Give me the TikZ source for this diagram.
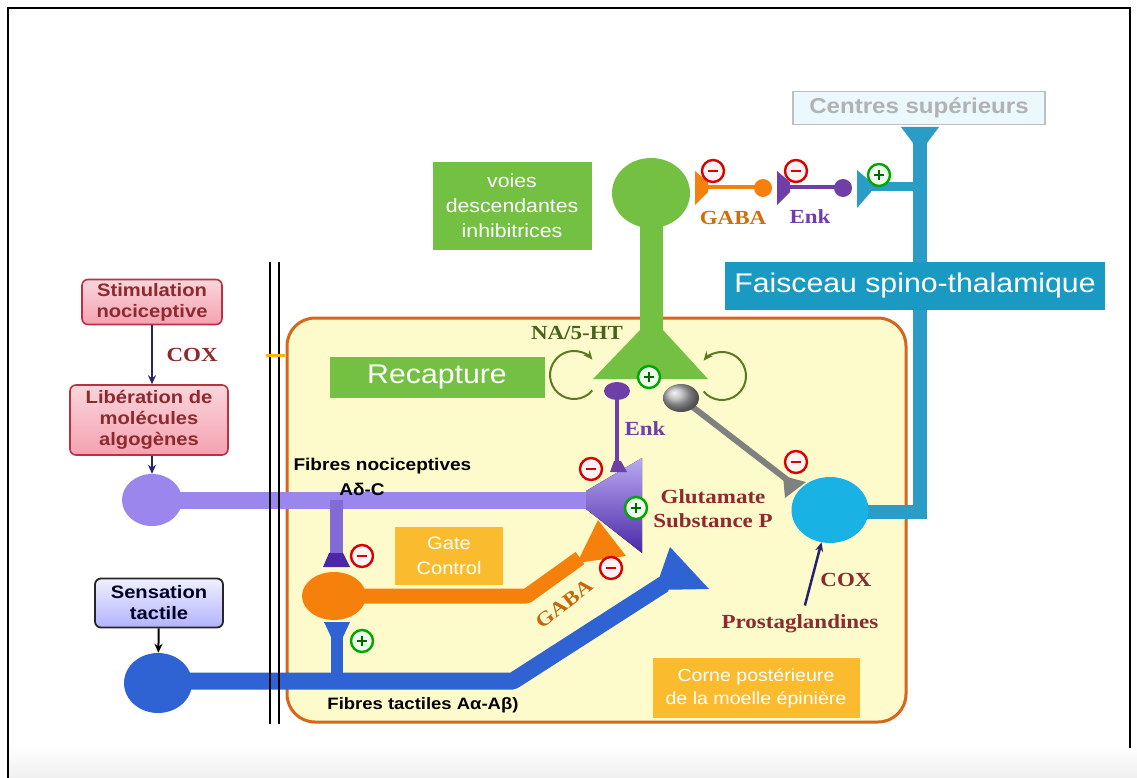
\documentclass[tikz,border=0pt]{standalone}
\usepackage{fontspec}
\setmainfont[FakeStretch=1.12]{Liberation Sans}
\newfontfamily\tms[FakeStretch=1.15]{Liberation Serif}
\usetikzlibrary{shapes.geometric,arrows.meta}

\definecolor{pinkf}{HTML}{F4A2B0}
\definecolor{pinkd}{HTML}{B83245}
\definecolor{brick}{HTML}{8C2A2E}
\definecolor{navyarr}{HTML}{28246A}
\definecolor{panelf}{HTML}{FDFBCC}
\definecolor{panelb}{HTML}{D5661B}
\definecolor{purp}{HTML}{9A86EC}
\definecolor{purpd}{HTML}{4B27A6}
\definecolor{orng}{HTML}{F6800C}
\definecolor{blu}{HTML}{2F62D2}
\definecolor{cyansoma}{HTML}{19B2E4}
\definecolor{tealaxon}{HTML}{2A9CC6}
\definecolor{grn}{HTML}{74C043}
\definecolor{olivegrn}{HTML}{5A7A22}
\definecolor{enkp}{HTML}{6E3FA6}
\definecolor{goldbox}{HTML}{FBBB2E}
\definecolor{tealbox}{HTML}{1A9AC2}

\begin{document}
\begin{tikzpicture}[x=1pt,y=-1pt,>={Stealth[length=9,width=8]},
  txtbox/.style={inner sep=0pt,align=center,text=white},
  pinkbox/.style={rounded corners=6,draw=pinkd,line width=1.6,top color=pinkf!45,bottom color=pinkf,
    text=brick,font=\bfseries\fontsize{18}{21}\selectfont,align=center,inner sep=0pt},
  serlbl/.style={font=\tms\bfseries\fontsize{20}{24}\selectfont},
  soma/.style={ellipse,inner sep=0pt},
  inh/.style={circle,draw=red!85!black,line width=2.4,fill=red!5,minimum size=22,inner sep=0pt,
    path picture={\draw[red!85!black,line width=2.6] ([xshift=-5]path picture bounding box.center)
      -- ([xshift=5]path picture bounding box.center);}},
  exc/.style={circle,draw=green!65!black,line width=2.4,fill=green!8,minimum size=22,inner sep=0pt,
    path picture={\draw[green!40!black,line width=2.2] ([xshift=-5]path picture bounding box.center)
      -- ([xshift=5]path picture bounding box.center)
      ([yshift=-5]path picture bounding box.center) -- ([yshift=5]path picture bounding box.center);}}]
\useasboundingbox (0,0) rectangle (1137,778);
\fill[white] (0,0) rectangle (1137,778);
\shade[top color=white,bottom color=black!6] (9,745) rectangle (1137,778);
\draw[line width=1.3] (8,778) -- (8,8) -- (1130,8) -- (1130,748);

% corne posterieure
\draw[panelb,line width=3,fill=panelf,rounded corners=28] (287,318) rectangle (906,722);

% left column
\node[pinkbox,minimum width=140,minimum height=45] (stim) at (152,302) {Stimulation\\nociceptive};
\node[pinkbox,minimum width=158,minimum height=70] (lib) at (149,420) {Libération de\\molécules\\algogènes};
\node[rounded corners=6,draw=black!85,line width=1.8,top color=blue!6,bottom color=blue!30,
  text=black!85!blue,font=\bfseries\fontsize{18}{21}\selectfont,align=center,inner sep=0pt,
  minimum width=128,minimum height=49] (tact) at (159,603) {Sensation\\tactile};
\node[serlbl,text=brick,anchor=west] (cox1) at (163,355) {COX};

% nociceptive fibre
\coordinate (n0) at (152,500);
\draw[purp,line width=17] (n0) -- (600,500);
\draw[purp!70!purpd,line width=13] (336,500) -- (336,560);
\fill[purpd] (323,567) -- (329,553) -- (343,553) -- (350,567) -- cycle;
\fill[top color=purp!70!white,bottom color=purpd] (586,491) -- (642,458) -- (642,553) -- (586,509) -- cycle;
\node[soma,fill=purp,minimum width=60,minimum height=52] (nsoma) at (n0) {};

% gate control
\draw[orng,line width=15,line join=round] (334,596) -- (527,596) -- (580,558);
\fill[orng] (577,563) -- (598,520) -- (626,556) -- cycle;
\node[soma,fill=orng,minimum width=64,minimum height=48] (osoma) at (334,596) {};
\node[serlbl,text=orng!80!black,rotate=38] (gaba2) at (564,604) {GABA};

% tactile fibre
\draw[blu,line width=17,line join=round] (158,681) -- (513,681) -- (664,584);
\fill[blu] (655,590) -- (670,547) -- (709,589) -- cycle;
\draw[blu,line width=12] (337,681) -- (337,630);
\fill[blu] (324,622) -- (350,622) -- (343,637) -- (331,637) -- cycle;
\node[soma,fill=blu,minimum width=68,minimum height=60] (tsoma) at (158,683) {};

\draw[navyarr,line width=2.5,->] (stim.south) -- (stim.south |- lib.north);
\draw[navyarr,line width=2.5,->] (lib.south -| nsoma.north) -- (nsoma.north);
\draw[black,line width=2,->] (tact) -- (tsoma);

% voies descendantes
\draw[grn,line width=23] (651,215) -- (651,345);
\fill[grn] (640,330) -- (593,379) -- (708,379) -- (663,330) -- cycle;
\node[soma,fill=grn,minimum width=78,minimum height=70] (gsoma) at (651,193) {};
\draw[olivegrn,line width=2,->] (574,375) ++(40:24) arc[start angle=40,end angle=320,radius=24];
\draw[olivegrn,line width=2,->] (722,376) ++(140:24) arc[start angle=140,end angle=-140,radius=24];
\node[serlbl,text=olivegrn!80!black] (naht) at (577,333) {NA/5-HT};

% enkephaline
\draw[enkp,line width=3.5] (617,392) -- (617,465);
\fill[enkp] (610,472) -- (614,461) -- (621,461) -- (627,472) -- cycle;
\node[soma,fill=enkp,minimum width=26,minimum height=18] (enk1) at (617,391) {};
\node[serlbl,text=enkp] (enklbl1) at (645,429) {Enk};

% grey neurone
\draw[black!50,line width=6] (681,398) -- (790,482);
\fill[black!50] (785,498) -- (783,476) -- (806,482) -- cycle;
\node[soma,ball color=black!30,minimum width=36,minimum height=28] (gball) at (681,398) {};

% spino-thalamique
\draw[tealaxon,line width=14] (830,512) -- (920,512) -- (920,135);
\fill[tealaxon] (901,127) -- (939,127) -- (927,143) -- (913,143) -- cycle;
\draw[tealaxon,line width=9] (920,187) -- (868,187);
\fill[tealaxon] (857,170) -- (871,182) -- (871,192) -- (857,208) -- cycle;
\node[soma,fill=cyansoma,minimum width=77,minimum height=66] (csoma) at (830,510) {};

% GABA / Enk relay
\draw[orng,line width=4] (706,187) -- (763,187);
\fill[orng] (695,171) -- (708,182) -- (708,192) -- (695,205) -- cycle;
\node[soma,fill=orng,minimum size=18] (gaball) at (763,188) {};
\draw[enkp,line width=4] (789,187) -- (843,187);
\fill[enkp] (777,171) -- (790,182) -- (790,192) -- (777,205) -- cycle;
\node[soma,fill=enkp,minimum size=18] (enball) at (843,188) {};
\node[serlbl,text=orng!85!black] (gabalbl) at (733,218) {GABA};
\node[serlbl,text=enkp] (enklbl2) at (810,217) {Enk};

% text boxes
\node[txtbox,fill=grn,minimum width=159,minimum height=87,font=\fontsize{19}{25}\selectfont] (voies) at (512,206) {voies\\descendantes\\inhibitrices};
\node[txtbox,fill=grn,minimum width=215,minimum height=41,font=\fontsize{27}{30}\selectfont] (recap) at (437,377) {Recapture};
\node[txtbox,fill=goldbox,minimum width=108,minimum height=58,font=\fontsize{18}{25}\selectfont] (gate) at (449,556) {Gate\\Control};
\node[txtbox,fill=goldbox,minimum width=207,minimum height=60,font=\fontsize{17.5}{23}\selectfont] (corne) at (756,688) {Corne postérieure\\de la moelle épinière};
\node[txtbox,fill=tealbox,minimum width=380,minimum height=48,font=\fontsize{27}{30}\selectfont] (fst) at (915,286) {Faisceau spino-thalamique};
\node[draw=black!25,fill=cyan!8,line width=1.5,minimum width=252,minimum height=33,inner sep=0pt,
  text=black!30,font=\bfseries\fontsize{21.5}{24}\selectfont] (centres) at (919,108) {Centres supérieurs};

% signs
\foreach \x/\y/\n in {713/171/m1, 796/171/m2, 591/469/m3, 796/462/m4, 362/556/m5, 611/568/m6}
  \node[inh] (\n) at (\x,\y) {};
\foreach \x/\y/\n in {879/175/p1, 649/377/p2, 636/508/p3, 362/641/p4}
  \node[exc] (\n) at (\x,\y) {};

% labels
\node[font=\bfseries\fontsize{17}{20}\selectfont,anchor=west] (fnoc) at (290,466) {Fibres nociceptives};
\node[font=\bfseries\fontsize{17}{20}\selectfont] (fnocac) at (362,489) {Aδ-C};
\node[font=\bfseries\fontsize{16.5}{20}\selectfont] (ftac) at (423,705) {Fibres tactiles Aα-Aβ)};
\node[serlbl,text=brick,align=center] (glut) at (713,509) {Glutamate\\Substance P};
\node[serlbl,text=brick] (cox2) at (846,580) {COX};
\node[serlbl,text=brick] (pg) at (800,624) {Prostaglandines};
\draw[navyarr,line width=2.5,->,shorten <=6] (pg) -- (csoma);

% barrier
\draw[line width=1.5] (270,262) -- (270,724) (279,262) -- (279,724);
\draw[orng!60!yellow,line width=3] (266,355) -- (285,355);
\end{tikzpicture}
\end{document}
